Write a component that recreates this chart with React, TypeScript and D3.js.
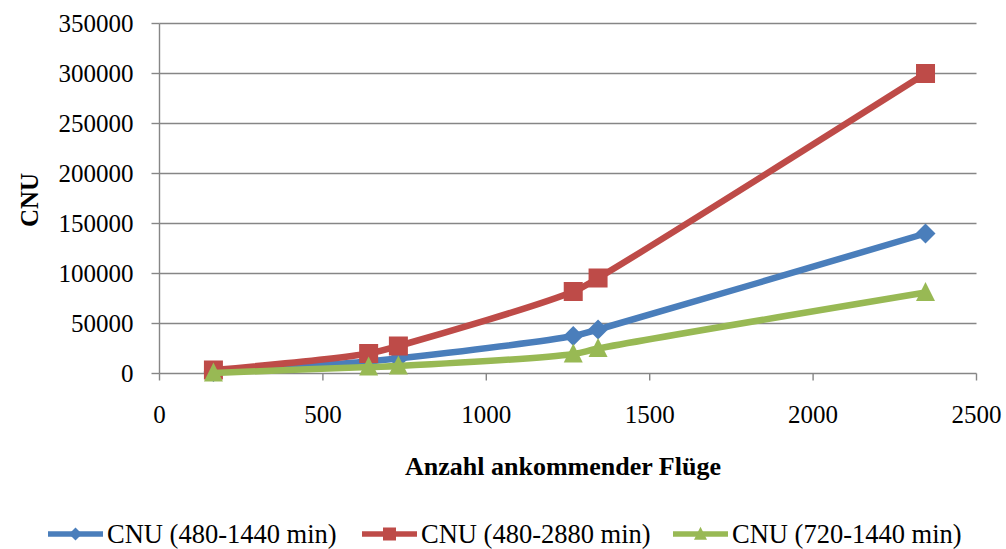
import React from "react";
import * as d3 from "d3";

// Arriving flights (x) and CNU values per time window
const flights = [165, 640, 731, 1266, 1342, 2344];
const cnu480_1440 = [1500, 12000, 15000, 37500, 44000, 140000];
const cnu480_2880 = [3500, 20000, 27500, 82000, 95500, 300000];
const cnu720_1440 = [500, 6500, 7500, 19500, 25000, 81000];

const seriesNames = ["CNU (480-1440 min)", "CNU (480-2880 min)", "CNU (720-1440 min)"];
const yTicks = [0, 50000, 100000, 150000, 200000, 250000, 300000, 350000];
const xTicks = [0, 500, 1000, 1500, 2000, 2500];

const W = 1006;
const H = 549;
const colors = ["#4A7EBB", "#BE4B48", "#98B954"];
const markers = ["diamond", "square", "triangle"];
const FONT = "'Liberation Serif', 'Times New Roman', serif";

function Marker({ kind, x, y, s, color }: { kind: string; x: number; y: number; s: number; color: string }) {
  if (kind === "diamond") {
    const r = s / 2;
    return <path d={`M${x},${y - r}L${x + r},${y}L${x},${y + r}L${x - r},${y}Z`} fill={color} />;
  }
  if (kind === "square") {
    return <rect x={x - s / 2} y={y - s / 2} width={s} height={s} fill={color} />;
  }
  const h = s;
  return (
    <path
      d={`M${x},${y - h * 0.55}L${x + s / 2},${y + h * 0.45}L${x - s / 2},${y + h * 0.45}Z`}
      fill={color}
    />
  );
}

export default function App() {
  const x = d3.scaleLinear().domain([0, 2500]).range([159.5, 976.5]);
  const y = d3.scaleLinear().domain([0, 350000]).range([373.5, 23.5]);
  const data = [cnu480_1440, cnu480_2880, cnu720_1440];
  const line = d3
    .line<[number, number]>()
    .x((d) => x(d[0]))
    .y((d) => y(d[1]))
    .curve(d3.curveCatmullRom.alpha(0.5));

  const legendItems = [{ lx: 48 }, { lx: 362 }, { lx: 673 }];
  const legendY = 534;

  return (
    <svg width={W} height={H} style={{ display: "block", position: "absolute", left: 0, top: 0, background: "#fff" }}>
      {/* horizontal gridlines */}
      {yTicks.map((t) => (
        <line key={"g" + t} x1={x(0)} x2={x(2500)} y1={y(t)} y2={y(t)} stroke="#868686" strokeWidth={1.4} />
      ))}
      {/* y axis */}
      <line x1={x(0)} x2={x(0)} y1={y(0)} y2={y(350000)} stroke="#868686" strokeWidth={1.4} />
      {yTicks.map((t) => (
        <g key={"yt" + t}>
          <line x1={x(0) - 8} x2={x(0)} y1={y(t)} y2={y(t)} stroke="#868686" strokeWidth={1.4} />
          <text x={x(0) - 26} y={y(t)} dy="0.35em" textAnchor="end" fontFamily={FONT} fontSize={25} fill="#000">
            {t}
          </text>
        </g>
      ))}
      {/* x axis ticks */}
      {xTicks.map((t) => (
        <g key={"xt" + t}>
          <line x1={x(t)} x2={x(t)} y1={y(0)} y2={y(0) + 7} stroke="#868686" strokeWidth={1.4} />
          <text x={x(t)} y={414} dy="0.35em" textAnchor="middle" fontFamily={FONT} fontSize={25} fill="#000">
            {t}
          </text>
        </g>
      ))}
      {/* axis titles */}
      <text
        transform={`translate(29,200) rotate(-90)`}
        dy="0.35em"
        textAnchor="middle"
        fontFamily={FONT}
        fontWeight="bold"
        fontSize={25}
        fill="#000"
      >
        CNU
      </text>
      <text x={563} y={466} dy="0.35em" textAnchor="middle" fontFamily={FONT} fontWeight="bold" fontSize={26} fill="#000">
        Anzahl ankommender Flüge
      </text>

      {/* series lines and markers */}
      {data.map((vals, i) => {
        const pts: [number, number][] = flights.map((f, j) => [f, vals[j]]);
        return (
          <g key={"s" + i}>
            <path d={line(pts) || ""} fill="none" stroke={colors[i]} strokeWidth={6.5} strokeLinejoin="round" />
            {pts.map((p, j) => (
              <Marker key={j} kind={markers[i]} x={x(p[0])} y={y(p[1])} s={i === 0 ? 20 : 19} color={colors[i]} />
            ))}
          </g>
        );
      })}

      {/* legend */}
      {legendItems.map((it, i) => (
        <g key={"l" + i}>
          <line x1={it.lx} x2={it.lx + 55} y1={legendY} y2={legendY} stroke={colors[i]} strokeWidth={5.5} />
          <Marker kind={markers[i]} x={it.lx + 27.5} y={legendY} s={13} color={colors[i]} />
          <text x={it.lx + 59} y={legendY} dy="0.35em" fontFamily={FONT} fontSize={26.5} fill="#000">
            {seriesNames[i]}
          </text>
        </g>
      ))}
    </svg>
  );
}
